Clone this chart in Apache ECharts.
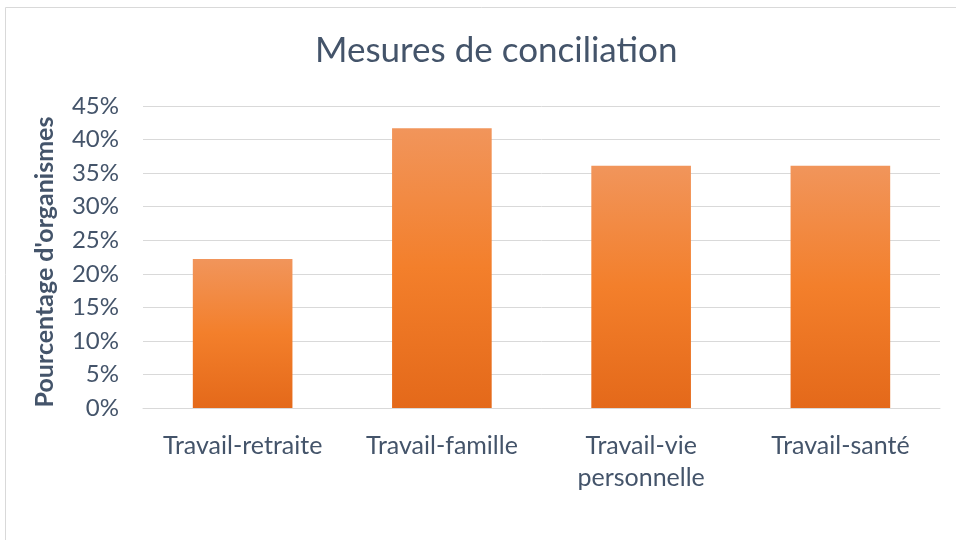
<!DOCTYPE html>
<html>
<head>
<meta charset="utf-8">
<script src="https://cdn.jsdelivr.net/npm/echarts@6/dist/echarts.min.js"></script>
<style>
  html, body { margin: 0; padding: 0; background: #fff; }
  #chart { width: 956px; height: 540px; }
</style>
</head>
<body>
<div id="chart"></div>
<script>
// données
var categories = ["Travail-retraite", "Travail-famille", "Travail-vie\npersonnelle", "Travail-santé"];
var values = [22.2, 41.7, 36.1, 36.1];
var yTicks = [0, 5, 10, 15, 20, 25, 30, 35, 40, 45];

var textColor = "#44546A";
var font = "Lato, 'Open Sans', sans-serif";

var myChart = echarts.init(document.getElementById("chart"));
var opt = {
  animation: false,
  graphic: [
    {
      // cadre gris clair autour du graphique
      type: "rect",
      shape: { x: 5.5, y: 7.5, width: 1000, height: 600 },
      style: { fill: "none", stroke: "#D9D9D9", lineWidth: 1 }
    }
  ],
  title: {
    text: "Mesures de conciliation",
    left: 310,
    top: 28,
    textStyle: { fontFamily: font, fontSize: 35, fontWeight: "normal", color: textColor }
  },
  grid: { left: 143, right: 16, top: 106, bottom: 132 },
  xAxis: {
    type: "category",
    data: categories,
    axisTick: { show: false },
    axisLine: { show: true, lineStyle: { color: "#D9D9D9", width: 1 } },
    axisLabel: {
      interval: 0,
      margin: 22,
      fontFamily: font,
      fontSize: 25,
      lineHeight: 32,
      color: textColor
    }
  },
  yAxis: {
    type: "value",
    min: yTicks[0],
    max: yTicks[yTicks.length - 1],
    interval: 5,
    name: "Pourcentage d'organismes",
    nameLocation: "middle",
    nameGap: 86,
    nameTextStyle: { fontFamily: font, fontSize: 25, fontWeight: "bold", color: textColor, padding: [0, 10, 0, 0] },
    axisLine: { show: false },
    axisTick: { show: false },
    splitLine: { show: true, lineStyle: { color: "#D9D9D9", width: 1 } },
    axisLabel: {
      margin: 24,
      fontFamily: font,
      fontSize: 24,
      color: textColor,
      formatter: function (v) { return v + "%"; }
    }
  },
  series: [
    {
      type: "bar",
      data: values,
      barWidth: "50%",
      itemStyle: {
        color: new echarts.graphic.LinearGradient(0, 0, 0, 1, [
          { offset: 0, color: "#F1955B" },
          { offset: 0.5, color: "#F37F2B" },
          { offset: 1, color: "#E4691A" }
        ])
      }
    }
  ]
};
myChart.setOption(opt);
</script>
</body>
</html>
